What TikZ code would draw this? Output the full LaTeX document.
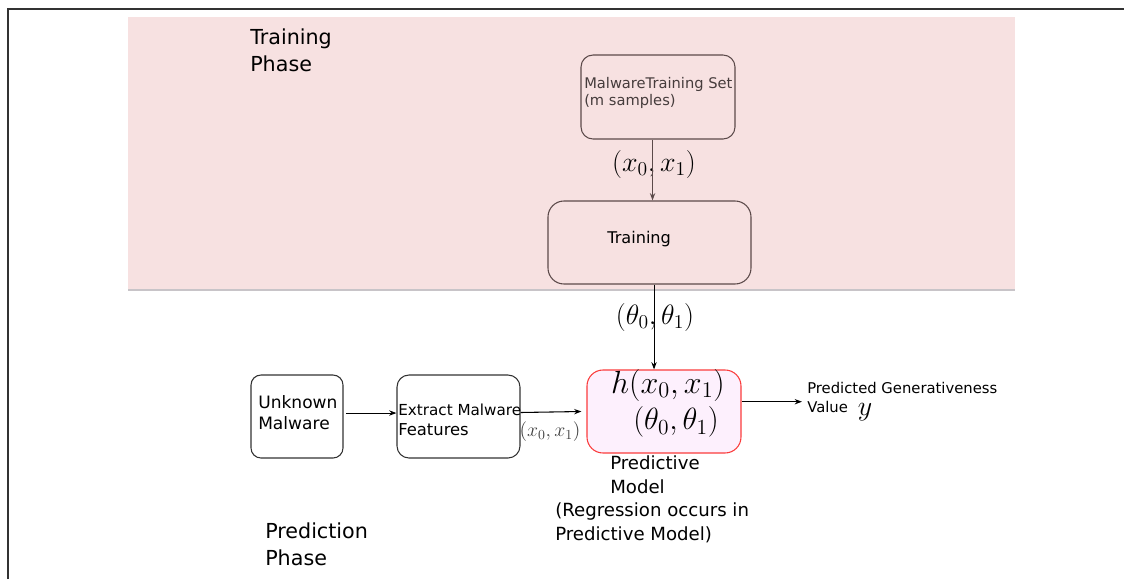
\RequirePackage{fix-cm}
\documentclass[tikz,border=0pt]{standalone}
\usepackage[no-math]{fontspec}
\setmainfont{DejaVu Sans}
\usetikzlibrary{arrows.meta}
\definecolor{pinkbg}{RGB}{247,225,225}
\definecolor{pinkline}{RGB}{200,196,200}
\definecolor{trline}{RGB}{92,74,74}
\definecolor{trtext}{RGB}{70,60,60}
\definecolor{pmfill}{RGB}{253,240,253}
\definecolor{pmline}{RGB}{250,60,60}
\definecolor{frame}{RGB}{50,50,50}
\definecolor{boxline}{RGB}{50,50,50}
\tikzset{
  box/.style={draw=boxline, line width=0.8pt, inner sep=0pt},
  trbox/.style={draw=trline, line width=0.8pt, inner sep=0pt},
  arr/.style={line width=0.8pt, -{Stealth[length=5.5pt,width=4pt]}},
  txt/.style={inner sep=0pt, align=left, anchor=base west},
  mathlbl/.style={inner sep=0pt}
}
\begin{document}
\begin{tikzpicture}[x=0.75pt,y=-0.75pt]
\useasboundingbox (0,0) rectangle (1124,579);
% frame
\draw[frame, line width=1.1pt] (8,579) -- (8,9) -- (1124,9);
% training phase background
\fill[pinkbg] (128,17) rectangle (1015,290);
\draw[pinkline, line width=1.1pt] (128,290) -- (1015,290);

% boxes
\node[trbox, rounded corners=9pt, minimum width=115.5pt, minimum height=63pt] (ts) at (658,97) {};
\node[trbox, rounded corners=12pt, minimum width=152.25pt, minimum height=62.25pt] (tr) at (649.5,242.5) {};
\node[box, rounded corners=7.5pt, minimum width=69pt, minimum height=62.25pt] (um) at (297,416.5) {};
\node[box, rounded corners=9pt, minimum width=92.25pt, minimum height=62.25pt] (ef) at (458.5,416.5) {};
\node[draw=pmline, fill=pmfill, line width=0.8pt, inner sep=0pt, rounded corners=12pt, minimum width=115.5pt, minimum height=62.25pt] (pm) at (664,411.5) {};

% texts (base anchor = baseline of the last line)
\node[txt, font=\fontsize{15.5}{20.25}\selectfont] (phase1) at (250,71) {Training\\Phase};
\node[txt, text=trtext, font=\fontsize{11}{13}\selectfont] (tstext) at (584,105.5) {MalwareTraining Set\\(m samples)};
\node[mathlbl, font=\fontsize{21}{25}\selectfont] (lbl1) at (654,164) {$(x_0,x_1)$};
\node[txt, font=\fontsize{12.1}{15}\selectfont] (trtext) at (607,243) {Training};
\node[mathlbl, font=\fontsize{21}{25}\selectfont] (lbl2) at (655,317) {$(\theta_0,\theta_1)$};
\node[txt, font=\fontsize{12.8}{15.5}\selectfont] (umtext) at (258,429) {Unknown\\Malware};
\node[txt, font=\fontsize{12.3}{15}\selectfont] (eftext) at (398,435) {{\fontsize{11.4}{15}\selectfont Extract Malware}\\Features};
\node[mathlbl, text=black!75, font=\fontsize{14.8}{18}\selectfont] (lbl3) at (550,432) {$(x_0,x_1)$};
\node[mathlbl, font=\fontsize{24}{28}\selectfont] (htext) at (668,385) {$h(x_0,x_1)$};
\node[mathlbl, font=\fontsize{23}{27}\selectfont] (thtext) at (676,422) {$(\theta_0,\theta_1)$};
\node[txt, font=\fontsize{11.1}{14.5}\selectfont] (outtext) at (807,412.7) {Predicted Generativeness\\Value};
\node[inner sep=0pt, anchor=base, font=\fontsize{21}{25}\selectfont] (ytext) at (865,415.5) {$y$};
\node[txt, font=\fontsize{13.6}{17.5}\selectfont] (pmlbl1) at (610,493.3) {Predictive\\Model};
\node[txt, font=\fontsize{13.6}{17.5}\selectfont] (pmlbl2) at (555,540) {(Regression occurs in\\Predictive Model)};
\node[txt, font=\fontsize{15.5}{20.25}\selectfont] (phase2) at (265,565) {Prediction\\Phase};

% connectors
\coordinate (out) at (802,401.7);
\draw[arr, trline] ([xshift=-4.1pt]ts.south) -- ([xshift=-4.1pt]ts.south |- tr.north);
\draw[arr] ([xshift=3.4pt]tr.south) -- ([xshift=3.4pt]tr.south |- pm.north);
\draw[arr] ([xshift=2pt,yshift=2.6pt]um.east) -- ([yshift=2.6pt]ef.west);
\draw[arr] ([yshift=3pt]ef.east) -- ([xshift=-3.75pt]pm.west);
\draw[arr] (pm.east |- out) -- (out);
\end{tikzpicture}
\end{document}
